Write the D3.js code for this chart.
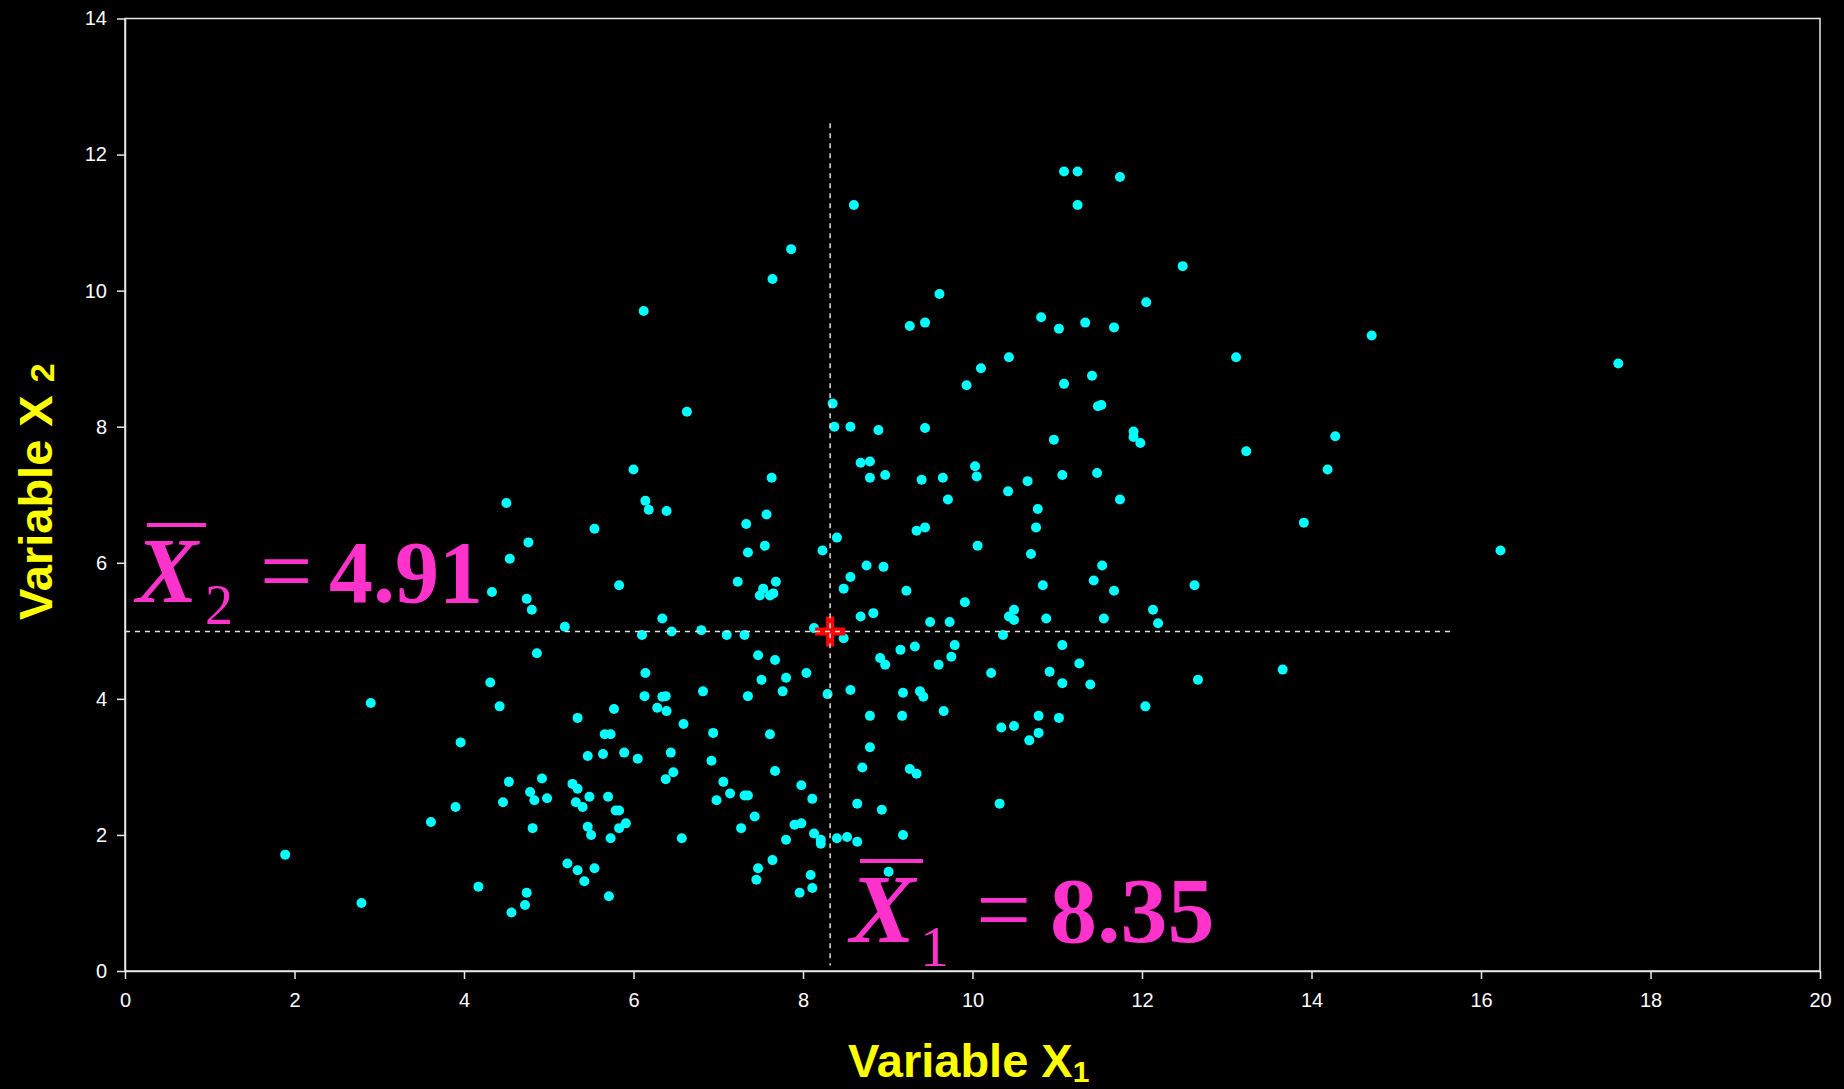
<!DOCTYPE html>
<html>
<head>
<meta charset="utf-8">
<script src="https://cdn.jsdelivr.net/npm/d3@7/dist/d3.min.js"></script>
<style>
  body { margin: 0; background: #000; }
  svg { display: block; }
</style>
</head>
<body>
<svg id="chart" width="1844" height="1089"></svg>
<script>
// sample values
const varX1 = [
  8.60, 7.86, 7.64, 6.12, 9.61, 9.26, 9.44, 10.10, 9.93, 8.35, 6.63, 11.08, 11.24, 11.74, 11.24,
  12.48, 12.05, 10.81, 11.02, 11.33, 11.67, 14.71, 13.11, 10.43, 11.08, 11.41, 11.48, 11.52, 17.62, 16.23,
  4.50, 4.76, 4.54, 4.33, 4.74, 4.80, 5.19, 4.86, 4.31,
  8.37, 8.56, 8.89, 9.44, 6.00, 7.63, 8.68, 8.79, 8.79, 8.97, 9.40, 9.65, 10.03, 10.05, 9.71,
  6.14, 6.18, 6.39, 5.54, 7.33, 7.57, 9.34, 9.44, 10.06, 8.40, 8.23, 7.35, 7.55, 8.75, 8.95,
  8.56, 8.48, 9.22, 9.91, 5.83, 7.23, 7.68, 7.53, 7.49, 7.61, 7.65, 8.68, 8.83, 9.50, 9.73,
  6.34, 6.10, 6.45, 6.80, 7.10, 7.31, 8.13, 8.48, 9.15, 9.32, 9.79, 9.75, 8.91, 8.97, 9.60,
  7.47, 7.67, 6.14, 7.51, 7.80, 8.04, 6.13, 6.34, 6.38, 6.82, 7.35, 7.76, 8.29, 8.56, 9.18, 9.38, 9.42,
  11.90, 11.90, 11.98, 10.96, 13.23, 14.28, 14.19, 10.42, 10.65, 11.06, 11.47, 11.74, 10.77, 10.75,
  13.91, 10.69, 11.53, 11.43, 10.83, 11.67, 12.62, 10.49, 10.43, 10.49, 10.87, 11.55, 12.13, 12.19,
  10.36, 11.06, 11.26, 10.22, 10.91, 11.06, 11.39, 12.66, 13.66,
  12.04, 10.34, 10.49, 10.78, 11.02, 10.78, 10.67, 10.32,
  9.66, 5.77, 5.34, 6.28, 6.39, 6.59, 6.94, 7.61, 8.79, 9.17, 5.66, 5.73, 5.46, 5.64, 5.89, 6.05,
  6.44, 6.92, 8.79, 6.47, 6.38, 7.67, 8.70, 9.26, 9.34, 4.92, 4.98, 5.28, 5.34, 5.32, 5.40, 5.48,
  5.70, 5.79, 5.83, 5.46, 5.50, 5.73, 5.83, 5.91, 6.57, 7.06, 7.14, 6.98, 7.31, 7.35, 7.43, 7.27,
  7.98, 8.11, 7.90, 7.98, 8.13, 8.21, 8.21, 7.80, 8.40, 8.52, 8.64, 9.18, 8.93, 8.64, 7.64, 7.47,
  7.45, 8.09, 8.11, 7.96, 9.01, 5.22, 5.34, 5.54, 5.42, 5.71,
  2.90, 4.42, 3.96, 4.53, 4.78, 4.83, 4.46, 3.90, 3.61, 4.81, 1.89, 4.17, 4.74, 4.72, 4.56, 2.79
]
const varX2 = [
  11.26, 10.61, 10.17, 9.70, 9.95, 9.48, 9.53, 8.86, 8.61, 8.34, 8.22, 11.75, 11.75, 11.67, 11.26,
  10.36, 9.83, 9.61, 9.44, 9.53, 9.46, 9.34, 9.02, 9.02, 8.63, 8.75, 8.30, 8.32, 8.93, 6.18,
  6.88, 6.30, 6.06, 5.57, 5.47, 5.31, 5.06, 4.67, 4.24,
  8.00, 8.00, 7.95, 7.98, 7.37, 7.25, 7.47, 7.49, 7.25, 7.29, 7.22, 7.25, 7.42, 7.27, 6.93,
  6.91, 6.78, 6.76, 6.50, 6.57, 6.71, 6.47, 6.52, 6.25, 6.37, 6.18, 6.15, 6.25, 5.96, 5.94,
  5.79, 5.62, 5.59, 5.42, 5.67, 5.72, 5.72, 5.62, 5.52, 5.52, 5.55, 5.21, 5.26, 5.13, 5.13,
  5.18, 4.94, 4.99, 5.01, 4.94, 4.94, 5.04, 4.89, 4.72, 4.77, 4.79, 4.62, 4.60, 4.50, 4.50,
  4.64, 4.57, 4.38, 4.28, 4.31, 4.38, 4.04, 4.03, 4.04, 4.11, 4.04, 4.11, 4.07, 4.13, 4.09, 4.11, 4.03,
  7.93, 7.85, 7.76, 7.81, 7.64, 7.86, 7.37, 7.05, 7.20, 7.29, 7.32, 6.93, 6.79, 6.52,
  6.59, 6.13, 5.96, 5.74, 5.67, 5.59, 5.67, 5.31, 5.21, 5.16, 5.18, 5.18, 5.31, 5.11,
  4.94, 4.79, 4.52, 4.38, 4.40, 4.23, 4.21, 4.28, 4.43,
  3.89, 3.58, 3.60, 3.75, 3.72, 3.50, 3.39, 2.46,
  3.82, 3.85, 3.72, 3.87, 3.82, 3.63, 3.50, 3.48, 3.75, 3.75, 3.48, 3.48, 3.16, 3.19, 3.21, 3.12,
  3.21, 3.09, 3.29, 2.92, 2.82, 2.94, 2.99, 2.97, 2.90, 2.83, 2.54, 2.75, 2.68, 2.48, 2.41, 2.56,
  2.56, 2.36, 2.36, 2.12, 2.00, 1.95, 2.10, 2.17, 1.95, 2.78, 2.61, 2.51, 2.58, 2.58, 2.27, 2.10,
  2.73, 2.53, 2.15, 2.17, 2.02, 1.93, 1.87, 1.93, 1.95, 1.97, 1.90, 2.00, 2.37, 2.46, 1.63, 1.51,
  1.34, 1.41, 1.22, 1.15, 1.46, 1.58, 1.48, 1.51, 1.32, 1.10,
  3.94, 3.89, 3.36, 2.78, 2.63, 2.51, 2.48, 2.41, 2.19, 2.10, 1.71, 1.24, 1.15, 0.97, 0.86, 1.00
]
const xTicks = [0, 2, 4, 6, 8, 10, 12, 14, 16, 18, 20]
const yTicks = [0, 2, 4, 6, 8, 10, 12, 14]

// where the mean lines are drawn, and the numbers printed next to them
const meanX1 = 8.32
const meanX2 = 4.99
const meanX1Label = '8.35'
const meanX2Label = '4.91'

const width = 1844
const height = 1089
const margin = {top: 18.5, right: 24, bottom: 118, left: 125}
const plotW = width - margin.left - margin.right
const plotH = height - margin.top - margin.bottom

const pink = '#ff33cc'
const yellow = '#ffff00'
const serif = '"Liberation Serif", "Times New Roman", serif'
const sans = '"Liberation Sans", Arial, sans-serif'

const svg = d3.select('#chart')

svg.append('rect')
  .attr('width', width)
  .attr('height', height)
  .attr('fill', '#000')

const chart = svg.append('g')
  .attr('transform', `translate(${margin.left}, ${margin.top})`)

const xScale = d3.scaleLinear().domain([0, 20]).range([0, plotW])
const yScale = d3.scaleLinear().domain([0, 14]).range([plotH, 0])

// plot frame
chart.append('rect')
  .attr('width', plotW)
  .attr('height', plotH)
  .attr('fill', 'none')
  .attr('stroke', '#e8e8e8')
  .attr('stroke-width', 1.5)

const xAxis = chart.append('g')
  .attr('transform', `translate(0, ${plotH})`)
  .call(d3.axisBottom(xScale).tickValues(xTicks).tickSize(8).tickPadding(14).tickSizeOuter(0))

const yAxis = chart.append('g')
  .call(d3.axisLeft(yScale).tickValues(yTicks).tickSize(8).tickPadding(10).tickSizeOuter(0))

;[xAxis, yAxis].forEach(ax => {
  ax.select('.domain').attr('stroke', '#e8e8e8').attr('stroke-width', 1.5)
  ax.selectAll('.tick line').attr('stroke', '#e8e8e8').attr('stroke-width', 1.5)
  ax.selectAll('.tick text')
    .attr('fill', '#fff')
    .style('font-family', sans)
    .style('font-size', '20px')
})

// points
const data = varX1.map((v, i) => ({x: v, y: varX2[i]}))

chart.selectAll('circle.pt')
  .data(data)
  .enter()
  .append('circle')
  .attr('class', 'pt')
  .attr('cx', d => xScale(d.x))
  .attr('cy', d => yScale(d.y))
  .attr('r', 5)
  .attr('fill', '#00ffff')

// red cross at the means
const cx = xScale(meanX1)
const cy = yScale(meanX2)
chart.append('path')
  .attr('d', `M${cx - 15},${cy}H${cx + 15}M${cx},${cy - 15}V${cy + 15}`)
  .attr('stroke', '#ff0000')
  .attr('stroke-width', 8)
  .attr('fill', 'none')

// mean lines
chart.append('line')
  .attr('x1', xScale(0))
  .attr('x2', xScale(15.68))
  .attr('y1', yScale(meanX2))
  .attr('y2', yScale(meanX2))
  .attr('stroke', '#e0e0e0')
  .attr('stroke-width', 1.5)
  .attr('stroke-dasharray', '5,5')

chart.append('line')
  .attr('x1', xScale(meanX1))
  .attr('x2', xScale(meanX1))
  .attr('y1', yScale(12.46))
  .attr('y2', yScale(0.08))
  .attr('stroke', '#e0e0e0')
  .attr('stroke-width', 1.5)
  .attr('stroke-dasharray', '5,5')

// X-bar annotations
function meanLabel(opt) {
  const g = svg.append('g').attr('fill', pink).style('font-family', serif).style('font-weight', 'bold')
  g.append('text')
    .attr('x', opt.x)
    .attr('y', opt.base)
    .style('font-size', opt.size + 'px')
    .style('font-style', 'italic')
    .text('X')
  g.append('rect')
    .attr('x', opt.barX)
    .attr('y', opt.barY)
    .attr('width', opt.barW)
    .attr('height', 4)
  g.append('text')
    .attr('x', opt.subX)
    .attr('y', opt.subBase)
    .style('font-size', opt.subSize + 'px')
    .style('font-weight', 'normal')
    .text(opt.sub)
  g.append('text')
    .attr('x', opt.eqX)
    .attr('y', opt.base)
    .style('font-size', opt.size + 'px')
    .style('font-weight', 'normal')
    .text('=')
  g.append('text')
    .attr('x', opt.numX)
    .attr('y', opt.base)
    .style('font-size', opt.numSize + 'px')
    .text(opt.value)
}

meanLabel({x: 136, base: 602, size: 93, numSize: 88, barX: 147, barY: 523, barW: 59,
  subX: 205, subBase: 624, subSize: 56, sub: '2', eqX: 260, numX: 329, value: meanX2Label})

meanLabel({x: 850, base: 942, size: 98, numSize: 94, barX: 860, barY: 859, barW: 63,
  subX: 920, subBase: 966, subSize: 58, sub: '1', eqX: 976, numX: 1050, value: meanX1Label})

// axis titles
const xTitle = svg.append('text')
  .attr('x', 848)
  .attr('y', 1077)
  .attr('fill', yellow)
  .style('font-family', sans)
  .style('font-weight', 'bold')
  .style('font-size', '47px')
xTitle.append('tspan').text('Variable X')
xTitle.append('tspan').attr('dy', 5).style('font-size', '30px').text('1')

const yTitle = svg.append('text')
  .attr('transform', 'translate(52, 620) rotate(-90)')
  .attr('fill', yellow)
  .style('font-family', sans)
  .style('font-weight', 'bold')
  .style('font-size', '47px')
yTitle.append('tspan').text('Variable X ')
yTitle.append('tspan').attr('dy', 2).style('font-size', '34px').text('2')
</script>
</body>
</html>
